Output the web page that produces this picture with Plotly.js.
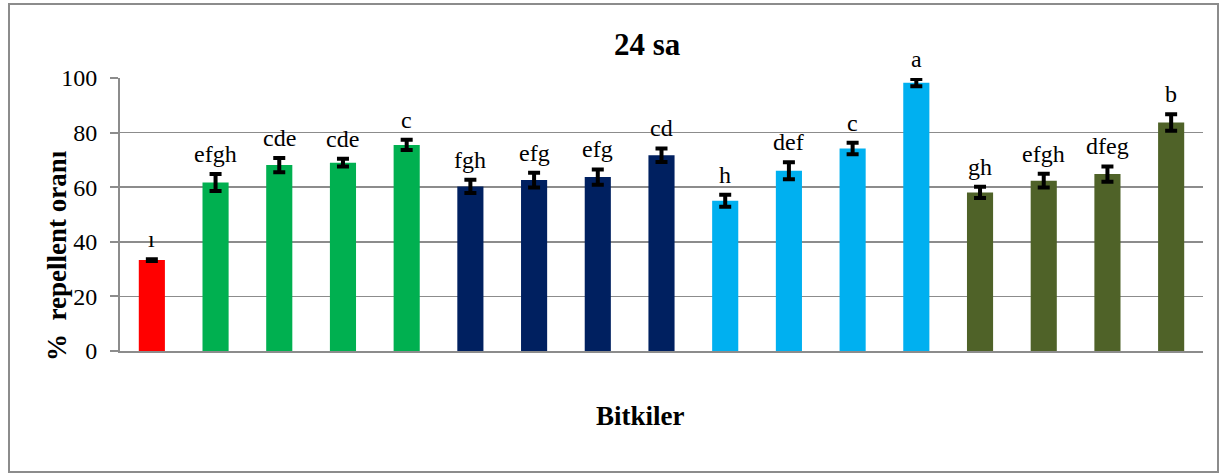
<!DOCTYPE html>
<html>
<head>
<meta charset="utf-8">
<script src="https://cdn.plot.ly/plotly-3.0.1.min.js"></script>
<style>
  html, body { margin: 0; padding: 0; background: #fff; }
  #chart { width: 1219px; height: 473px; }
</style>
</head>
<body>
<div id="chart"></div>
<script>
// ---- data ----
const categories = ["1","2","3","4","5","6","7","8","9","10","11","12","13","14","15","16","17"];
const values = [33.3, 61.7, 68.1, 69.0, 75.5, 60.3, 62.6, 63.7, 71.7, 55.0, 66.0, 74.2, 98.3, 58.1, 62.4, 64.8, 83.7];
const errors = [0.3, 3.1, 2.6, 1.4, 1.9, 2.4, 2.7, 2.8, 2.5, 2.2, 3.1, 2.1, 1.3, 2.1, 2.5, 2.8, 3.0];
const letters = ["ı","efgh","cde","cde","c","fgh","efg","efg","cd","h","def","c","a","gh","efgh","dfeg","b"];
const groups = ["kontrol","g1","g1","g1","g1","g2","g2","g2","g2","g3","g3","g3","g3","g4","g4","g4","g4"];
const groupColors = {kontrol: "#FF0000", g1: "#00B050", g2: "#002060", g3: "#00B0F0", g4: "#4F6228"};
const yTicks = [0, 20, 40, 60, 80, 100];
const chartTitle = "24 sa";
const xTitle = "Bitkiler";
const yTitle = "%  repellent oranı";

const serif = "Liberation Serif";

const trace = {
  type: "bar",
  x: categories,
  y: values,
  marker: { color: groups.map(g => groupColors[g]), line: { width: 0 } },
  error_y: { type: "data", array: errors, visible: true, color: "#000", thickness: 4, width: 6 },
  hoverinfo: "x+y"
};

const annotations = categories.map((c, i) => ({
  x: i, y: values[i] + errors[i], xref: "x", yref: "y",
  text: letters[i], showarrow: false, yanchor: "bottom", yshift: 5,
  font: { family: serif, size: 24, color: "#000" }
}));

annotations.push({
  xref: "paper", yref: "paper", x: (647 - 120) / 1083, y: (351 - 45) / 273,
  text: "<b>" + chartTitle + "</b>", showarrow: false, xanchor: "center", yanchor: "middle",
  font: { family: serif, size: 31, color: "#000" }
});
annotations.push({
  xref: "paper", yref: "paper", x: (640 - 120) / 1083, y: (351 - 416) / 273,
  text: "<b>" + xTitle + "</b>", showarrow: false, xanchor: "center", yanchor: "middle",
  font: { family: serif, size: 27, color: "#000" }
});
annotations.push({
  xref: "paper", yref: "paper", x: (57 - 120) / 1083, y: (351 - 256) / 273,
  text: "<b>" + yTitle + "</b>", showarrow: false, textangle: -90, xanchor: "center", yanchor: "middle",
  font: { family: serif, size: 27, color: "#000" }
});

const layout = {
  width: 1219, height: 473,
  margin: { l: 120, r: 16, t: 78, b: 122 },
  paper_bgcolor: "#fff", plot_bgcolor: "#fff",
  showlegend: false,
  bargap: 0.59,
  font: { family: serif, color: "#000" },
  xaxis: {
    type: "category", range: [-0.5, categories.length - 0.5], showticklabels: false, ticks: "",
    showline: true, linecolor: "#8c8c8c", linewidth: 2,
    showgrid: false, zeroline: false, fixedrange: true
  },
  yaxis: {
    range: [0, 100], tickvals: yTicks, ticktext: yTicks.map(String),
    ticks: "outside", ticklen: 8, tickcolor: "#8c8c8c", tickwidth: 2,
    ticklabelstandoff: 8,
    showline: true, linecolor: "#8c8c8c", linewidth: 2,
    showgrid: true, gridcolor: "#8c8c8c", gridwidth: 1.5,
    zeroline: false,
    tickfont: { family: serif, size: 24, color: "#000" }, fixedrange: true
  },
  annotations: annotations,
  shapes: [{
    type: "rect", xref: "paper", yref: "paper",
    x0: (9 - 120) / 1083, x1: (1218 - 120) / 1083,
    y0: (351 - 472) / 273, y1: (351 - 4) / 273,
    line: { color: "#8c8c8c", width: 2 }, fillcolor: "rgba(0,0,0,0)", layer: "below"
  }]
};

Plotly.newPlot("chart", [trace], layout, { displayModeBar: false, staticPlot: true });
</script>
</body>
</html>
